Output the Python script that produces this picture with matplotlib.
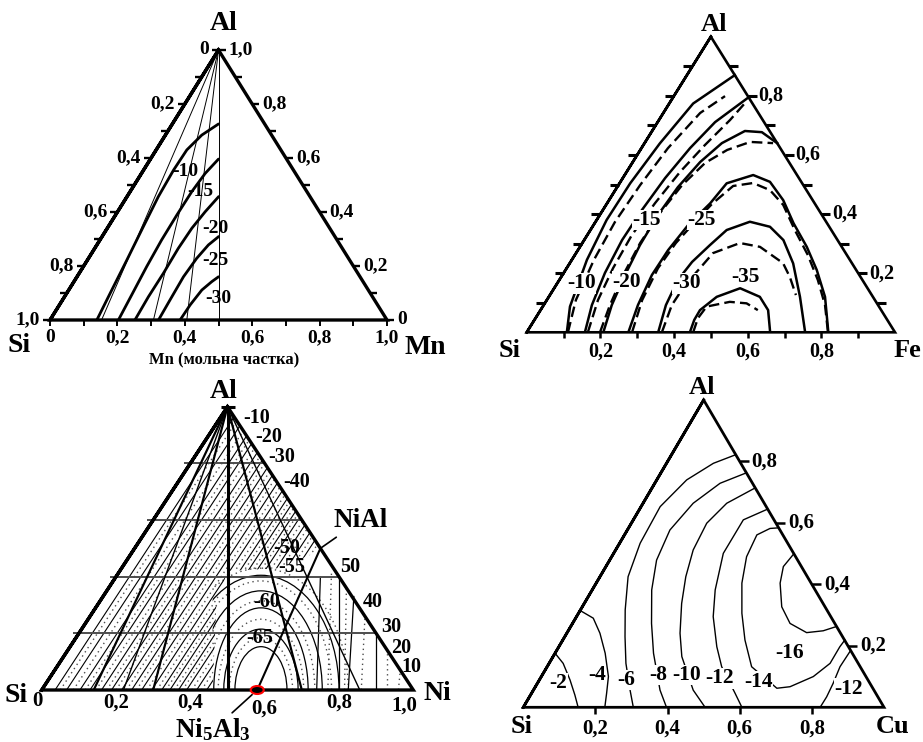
import numpy as np
import matplotlib
matplotlib.use("Agg")
import matplotlib.pyplot as plt
from matplotlib.patches import Polygon, Arc, Ellipse
from matplotlib.transforms import offset_copy

# ---------------- data: compositions (fraction of right-hand element, fraction of Al) ----------------
# Panel 1: Si-Mn-Al
P1_TICKS = [0.0, 0.1, 0.2, 0.3, 0.4, 0.5, 0.6, 0.7, 0.8, 0.9, 1.0]
P1_TICK_LABELS = [0.0, 0.2, 0.4, 0.6, 0.8, 1.0]
P1_RAYS_MN = [0.153, 0.307, 0.406, 0.5]
P1_CURVE_MN = [
    [0.139, 0.129, 0.117, 0.104, 0.093, 0.089, 0.091, 0.108, 0.137],
    [0.203, 0.196, 0.188, 0.183, 0.182, 0.183, 0.189, 0.202],
    [0.252, 0.249, 0.250, 0.248, 0.251, 0.260, 0.272],
    [0.322, 0.319, 0.316, 0.321, 0.331, 0.346],
    [0.386, 0.388, 0.395, 0.409, 0.420],
]
P1_CURVE_AL = [
    [0.0, 0.099, 0.222, 0.346, 0.457, 0.556, 0.630, 0.685, 0.726],
    [0.0, 0.093, 0.198, 0.296, 0.389, 0.475, 0.543, 0.596],
    [0.0, 0.086, 0.173, 0.265, 0.340, 0.401, 0.457],
    [0.0, 0.074, 0.160, 0.228, 0.278, 0.309],
    [0.0, 0.056, 0.111, 0.142, 0.160],
]
P1_LEVELS = ["-10", "-15", "-20", "-25", "-30"]
P1_LEVEL_MN = [0.126, 0.208, 0.320, 0.379, 0.459]
P1_LEVEL_AL = [0.549, 0.475, 0.340, 0.222, 0.080]

# Panel 2: Si-Fe-Al
P2_TICKS = [0.1, 0.2, 0.3, 0.4, 0.5, 0.6, 0.7, 0.8, 0.9]
P2_TICK_LABELS = [0.2, 0.4, 0.6, 0.8]
P2_SOLID_FE = [
    [0.109, 0.074, 0.041, 0.027, 0.029, 0.042, 0.065, 0.130],
    [0.158, 0.131, 0.112, 0.103, 0.106, 0.115, 0.132, 0.156, 0.205],
    [0.208, 0.185, 0.170, 0.160, 0.158, 0.165, 0.183, 0.210, 0.252, 0.300, 0.360],
    [0.276, 0.256, 0.243, 0.245, 0.257, 0.280, 0.291, 0.349, 0.406, 0.473, 0.540, 0.616, 0.682, 0.750, 0.819],
    [0.357, 0.332, 0.322, 0.330, 0.350, 0.370, 0.419, 0.482, 0.541, 0.607, 0.682, 0.756],
    [0.443, 0.434, 0.433, 0.456, 0.505, 0.573, 0.618, 0.661],
]
P2_SOLID_AL = [
    [0.0, 0.087, 0.245, 0.380, 0.504, 0.639, 0.774, 0.870],
    [0.0, 0.092, 0.201, 0.312, 0.414, 0.522, 0.623, 0.711, 0.795],
    [0.0, 0.092, 0.194, 0.295, 0.397, 0.491, 0.576, 0.640, 0.681, 0.677, 0.640],
    [0.0, 0.092, 0.194, 0.278, 0.363, 0.436, 0.504, 0.532, 0.509, 0.447, 0.369, 0.289, 0.211, 0.120, 0.0],
    [0.0, 0.092, 0.177, 0.238, 0.295, 0.346, 0.374, 0.357, 0.312, 0.233, 0.120, 0.0],
    [0.0, 0.042, 0.075, 0.120, 0.149, 0.120, 0.075, 0.0],
]
P2_DASH_FE = [
    [0.112, 0.079, 0.060, 0.053, 0.059, 0.072, 0.100, 0.139],
    [0.166, 0.139, 0.126, 0.121, 0.130, 0.145, 0.167, 0.193, 0.205],
    [0.199, 0.180, 0.165, 0.157, 0.160, 0.173, 0.198, 0.236, 0.285, 0.349],
    [0.286, 0.259, 0.248, 0.254, 0.270, 0.286, 0.313, 0.362, 0.420, 0.481, 0.555, 0.633, 0.702, 0.764, 0.818],
    [0.367, 0.348, 0.350, 0.362, 0.372, 0.428, 0.489, 0.579, 0.621, 0.668],
    [0.452, 0.441, 0.445, 0.500, 0.548, 0.590],
]
P2_DASH_AL = [
    [0.0, 0.109, 0.245, 0.373, 0.498, 0.623, 0.742, 0.799],
    [0.0, 0.109, 0.217, 0.329, 0.437, 0.542, 0.633, 0.718, 0.776],
    [0.0, 0.092, 0.194, 0.302, 0.403, 0.498, 0.573, 0.617, 0.644, 0.640],
    [0.0, 0.109, 0.217, 0.302, 0.373, 0.434, 0.495, 0.505, 0.481, 0.431, 0.346, 0.261, 0.177, 0.092, 0.0],
    [0.0, 0.092, 0.160, 0.217, 0.268, 0.302, 0.289, 0.234, 0.187, 0.126],
    [0.0, 0.048, 0.087, 0.103, 0.098, 0.075],
]
P2_LEVELS = ["-10", "-15", "-20", "-25", "-30", "-35"]
P2_LEVEL_FE = [0.066, 0.136, 0.186, 0.285, 0.352, 0.499]
P2_LEVEL_AL = [0.166, 0.380, 0.171, 0.380, 0.166, 0.188]

# Panel 3: Si-Ni-Al
P3_GRID_AL = [0.2, 0.4, 0.6, 0.8]
P3_TICK_LABELS = [0.2, 0.4, 0.6, 0.8]
P3_RAYS_THICK = [0.14, 0.30, 0.70]
P3_RAYS_THIN = [0.22, 0.856]
P3_HATCH_SOLID = [0.036, 0.067, 0.103, 0.130, 0.161, 0.188, 0.215, 0.242, 0.269,
                  0.296, 0.323, 0.345, 0.368, 0.390, 0.417, 0.444, 0.471]
P3_HATCH_DOT = [0.050, 0.085, 0.117, 0.146, 0.175, 0.200, 0.228, 0.255, 0.283,
                0.310, 0.334, 0.357, 0.379, 0.404, 0.430, 0.457, 0.485]
P3_ARC_CENTER_NI = 0.59
P3_ARC_RX_SOLID = [0.07, 0.10, 0.127, 0.165, 0.21]
P3_ARC_RY_SOLID = [0.153, 0.215, 0.29, 0.35, 0.405]
P3_ARC_RX_DOT = [0.085, 0.115, 0.145, 0.19, 0.235]
P3_ARC_RY_DOT = [0.185, 0.25, 0.315, 0.385, 0.43]
P3_NI_SOLID_BASE = [0.74, 0.80, 0.825, 0.90]
P3_NI_SOLID_TOP = [0.55, 0.60, 0.675, 0.80]
P3_AL_SOLID_TOP = [0.40, 0.40, 0.33, 0.20]
P3_NI_DOT_BASE = [0.77, 0.815, 0.86, 0.93, 0.96]
P3_NI_DOT_TOP = [0.57, 0.64, 0.74, 0.86, 0.93]
P3_AL_DOT_TOP = [0.42, 0.36, 0.26, 0.14, 0.07]
P3_NI5AL3 = (0.58, 0.0)
P3_NIAL = (0.50, 0.50)
P3_LEVELS = ["-10", "-20", "-30", "-40", "-50", "-55", "-60", "-65", "50", "40", "30", "20", "10"]
P3_LEVEL_NI = [0.099, 0.163, 0.234, 0.320, 0.408, 0.455, 0.450, 0.496, 0.612, 0.736, 0.830, 0.895, 0.954]
P3_LEVEL_AL = [0.959, 0.894, 0.824, 0.733, 0.502, 0.435, 0.312, 0.183, 0.435, 0.312, 0.223, 0.147, 0.082]

# Panel 4: Si-Cu-Al
P4_TICK_LABELS = [0.2, 0.4, 0.6, 0.8]
P4_CURVE_CU = [
    [0.0, 0.039, 0.085, 0.123, 0.152],
    [0.0, 0.049, 0.092, 0.139, 0.186, 0.208, 0.226],
    [0.178, 0.130, 0.083, 0.053, 0.057, 0.078, 0.124, 0.167, 0.213, 0.268, 0.305],
    [0.237, 0.181, 0.139, 0.118, 0.130, 0.165, 0.219, 0.273, 0.351, 0.397],
    [0.286, 0.232, 0.209, 0.215, 0.238, 0.270, 0.314, 0.357, 0.443, 0.504],
    [0.355, 0.305, 0.304, 0.341, 0.379, 0.438, 0.484, 0.564, 0.606],
    [0.416, 0.393, 0.367, 0.374, 0.404, 0.453, 0.505, 0.567, 0.672, 0.706, 0.754, 0.779, 0.779, 0.782],
    [0.500, 0.492, 0.510, 0.553, 0.603, 0.664, 0.707, 0.737],
    [0.815, 0.812, 0.820, 0.824, 0.823],
]
P4_CURVE_AL = [
    [0.176, 0.143, 0.089, 0.040, 0.0],
    [0.315, 0.290, 0.241, 0.176, 0.100, 0.046, 0.0],
    [0.822, 0.794, 0.740, 0.653, 0.534, 0.425, 0.317, 0.230, 0.143, 0.056, 0.0],
    [0.763, 0.729, 0.664, 0.577, 0.479, 0.382, 0.273, 0.176, 0.056, 0.0],
    [0.714, 0.664, 0.599, 0.512, 0.425, 0.338, 0.241, 0.165, 0.056, 0.0],
    [0.645, 0.610, 0.501, 0.382, 0.295, 0.197, 0.132, 0.046, 0.0],
    [0.584, 0.582, 0.561, 0.490, 0.404, 0.306, 0.219, 0.132, 0.062, 0.067, 0.100, 0.143, 0.197, 0.219],
    [0.498, 0.458, 0.404, 0.327, 0.273, 0.243, 0.249, 0.263],
    [0.185, 0.132, 0.078, 0.034, 0.0],
]
P4_LEVELS = ["-2", "-4", "-6", "-8", "-10", "-12", "-14", "-16", "-12"]
P4_LEVEL_CU = [0.058, 0.151, 0.242, 0.322, 0.400, 0.498, 0.610, 0.649, 0.871]
P4_LEVEL_AL = [0.078, 0.105, 0.089, 0.105, 0.105, 0.094, 0.083, 0.176, 0.060]

# ---------------- drawing ----------------
plt.rcParams["font.family"] = ["Liberation Serif", "DejaVu Serif"]
plt.rcParams["font.weight"] = "bold"
plt.rcParams["mathtext.fontset"] = "custom"
plt.rcParams["mathtext.rm"] = "Liberation Serif:bold"
plt.rcParams["mathtext.it"] = "Liberation Serif:bold"
plt.rcParams["mathtext.bf"] = "Liberation Serif:bold"

W, H = 923, 742
fig = plt.figure(figsize=(W / 100, H / 100), dpi=100)


def to_xy(b, al):
    b = np.asarray(b, dtype=float)
    al = np.asarray(al, dtype=float)
    return b + al / 2, al


def comma(v):
    return "0" if v == 0 else f"{v:.1f}".replace(".", ",")


def make_panel(left, right, base, top):
    ax = fig.add_axes([left / W, 1 - base / H, (right - left) / W, (base - top) / H])
    ax.set_xlim(0, 1)
    ax.set_ylim(0, 1)
    ax.axis("off")
    return ax, right - left, base - top


def outline(ax, lw):
    ax.plot([0, 0.5, 1, 0, 0.5], [0, 1, 0, 0, 1], color="k", lw=lw,
            solid_joinstyle="miter", clip_on=False, zorder=5)


def seg(ax, x0, y0, x1, y1, lw=1.5, **kw):
    ax.plot([x0, x1], [y0, y1], color=kw.pop("color", "k"), lw=lw,
            solid_capstyle="butt", clip_on=False, **kw)


def txt(ax, x, y, s, dx=0, dy=0, size=13, **kw):
    tr = offset_copy(ax.transData, fig=fig, x=dx, y=-dy, units="dots")
    kw.setdefault("ha", "center")
    kw.setdefault("va", "center")
    return ax.text(x, y, s, transform=tr, fontsize=size, fontweight="bold",
                   clip_on=False, **kw)


WHITE = dict(facecolor="white", edgecolor="none", pad=0.3)

# ===== Panel 1 =====
ax1, w1, h1 = make_panel(50, 387, 320, 50)
for mn in P1_RAYS_MN:
    seg(ax1, 0.5, 1, *to_xy(mn, 0), lw=0.7)
for b, al in zip(P1_CURVE_MN, P1_CURVE_AL):
    x, y = to_xy(b, al)
    ax1.plot(x, y, color="k", lw=2.0, solid_capstyle="round")
for al in P1_TICKS:
    seg(ax1, al / 2, al, al / 2 - 7 / w1, al, lw=1.7)
    seg(ax1, 1 - al / 2, al, 1 - al / 2 + 7 / w1, al, lw=1.7)
    seg(ax1, al, 0, al, -6 / h1, lw=1.4)
for v in P1_TICK_LABELS:
    txt(ax1, (1 - v) / 2, 1 - v, comma(v), dx=-10, ha="right", size=14)
    txt(ax1, 1 - v / 2, v, comma(v), dx=10, ha="left", size=14)
    txt(ax1, v, 0, comma(v), dy=18, size=14)
for s, b, al in zip(P1_LEVELS, P1_LEVEL_MN, P1_LEVEL_AL):
    txt(ax1, *to_xy(b, al), s, size=14)
outline(ax1, 2.4)
txt(ax1, 0.5, 1, "Al", dx=5, dy=-26, size=20)
txt(ax1, 0, 0, "Si", dx=-31, dy=25, size=20)
txt(ax1, 1, 0, "Mn", dx=38, dy=27, size=20)
txt(ax1, 0.5, 0, "Mn (мольна частка)", dx=6, dy=40, size=12)

# ===== Panel 2 =====
ax2, w2, h2 = make_panel(526.7, 895, 332.3, 36.7)
for b, al in zip(P2_SOLID_FE, P2_SOLID_AL):
    x, y = to_xy(b, al)
    ax2.plot(x, y, color="k", lw=1.8)
for b, al in zip(P2_DASH_FE, P2_DASH_AL):
    x, y = to_xy(b, al)
    ax2.plot(x, y, color="k", lw=1.7, ls=(0, (4.5, 2.2)))
for al in P2_TICKS:
    seg(ax2, al / 2, al, al / 2 - 9 / w2, al, lw=2.2)
    seg(ax2, 1 - al / 2, al, 1 - al / 2 + 9 / w2, al, lw=2.2)
    seg(ax2, al, 0, al, -6 / h2, lw=1.8)
for v in P2_TICK_LABELS:
    txt(ax2, 1 - v / 2, v, comma(v), dx=11, ha="left", size=14.5)
    txt(ax2, v, 0, comma(v), dy=19, size=14.5)
for s, b, al in zip(P2_LEVELS, P2_LEVEL_FE, P2_LEVEL_AL):
    txt(ax2, *to_xy(b, al), s, size=15.5, bbox=WHITE)
outline(ax2, 1.9)
txt(ax2, 0.5, 1, "Al", dx=3, dy=-12, size=19)
txt(ax2, 0, 0, "Si", dx=-17, dy=18, size=19)
txt(ax2, 1, 0, "Fe", dx=12, dy=18, size=19)

# ===== Panel 3 =====
ax3, w3, h3 = make_panel(41.7, 413.3, 690, 406.7)
hatch_zone = Polygon([(0, 0), (0.5, 1), (0.753, 0.494), (0.64, 0.43), (0.5, 0.42),
                      (0.47, 0.3), (0.46, 0)], closed=True, facecolor="none",
                     edgecolor="none", transform=ax3.transData)
ax3.add_patch(hatch_zone)
arc_zone = Polygon([(0.46, 0), (1, 0), (0.5, 1), (0.46, 0.92)], closed=True,
                   facecolor="none", edgecolor="none", transform=ax3.transData)
ax3.add_patch(arc_zone)
for c in P3_HATCH_SOLID:
    x, y = to_xy([c, c], [0, 1 - c])
    ln, = ax3.plot(x, y, color="k", lw=0.8)
    ln.set_clip_path(hatch_zone)
for c in P3_HATCH_DOT:
    x, y = to_xy([c, c], [0, 1 - c])
    ln, = ax3.plot(x, y, color="0.3", lw=1.0, ls=(0, (1, 2.6)))
    ln.set_clip_path(hatch_zone)
for rx, ry in zip(P3_ARC_RX_SOLID, P3_ARC_RY_SOLID):
    a = Arc((P3_ARC_CENTER_NI, 0), 2 * rx, 2 * ry, theta1=0, theta2=180, color="k", lw=0.9)
    ax3.add_patch(a)
    a.set_clip_path(arc_zone)
for rx, ry in zip(P3_ARC_RX_DOT, P3_ARC_RY_DOT):
    a = Arc((P3_ARC_CENTER_NI, 0), 2 * rx, 2 * ry, theta1=0, theta2=180, color="0.3",
            lw=1.0, ls=(0, (1, 2.6)))
    ax3.add_patch(a)
    a.set_clip_path(arc_zone)
for b0, b1, a1 in zip(P3_NI_SOLID_BASE, P3_NI_SOLID_TOP, P3_AL_SOLID_TOP):
    x, y = to_xy([b0, b1], [0, a1])
    ax3.plot(x, y, color="k", lw=0.9)
for b0, b1, a1 in zip(P3_NI_DOT_BASE, P3_NI_DOT_TOP, P3_AL_DOT_TOP):
    x, y = to_xy([b0, b1], [0, a1])
    ax3.plot(x, y, color="0.3", lw=1.0, ls=(0, (1, 2.6)))
for al in P3_GRID_AL:
    seg(ax3, al / 2 - 6 / w3, al, 1 - al / 2, al, lw=1.4, color="0.3")
seg(ax3, 0.5, 0, 0.5, 1, lw=2.2)
for b in P3_RAYS_THICK:
    seg(ax3, 0.5, 1, *to_xy(b, 0), lw=1.6)
for b in P3_RAYS_THIN:
    seg(ax3, 0.5, 1, *to_xy(b, 0), lw=1.0)
x, y = to_xy([P3_NI5AL3[0], P3_NIAL[0]], [P3_NI5AL3[1], P3_NIAL[1]])
ax3.plot(x, y, color="k", lw=1.5)
ax3.add_patch(Ellipse(to_xy(*P3_NI5AL3), 13 / w3, 8 / h3, facecolor="k",
                      edgecolor="red", lw=1.5, zorder=6, clip_on=False))
for s, b, al in zip(P3_LEVELS, P3_LEVEL_NI, P3_LEVEL_AL):
    txt(ax3, *to_xy(b, al), s, size=14.5)
outline(ax3, 2.4)
seg(ax3, 0.5 - 7 / w3, 1, 0.5 + 7 / w3, 1, lw=2.2)
ax3.annotate("NiAl", xy=to_xy(*P3_NIAL), xytext=(40, 28), textcoords="offset pixels",
             fontsize=19.5, fontweight="bold", ha="center", va="center",
             arrowprops=dict(arrowstyle="-", lw=1.2, color="k", shrinkA=2, shrinkB=0))
ax3.annotate("Ni$_5$Al$_3$", xy=to_xy(*P3_NI5AL3), xytext=(-44, -40), textcoords="offset pixels",
             fontsize=19.5, fontweight="bold", ha="center", va="center", annotation_clip=False,
             arrowprops=dict(arrowstyle="-", lw=1.2, color="k", shrinkA=1, shrinkB=5))
for v in P3_TICK_LABELS:
    txt(ax3, v, 0, comma(v), dy=19 if v == 0.6 else 13, size=15)
txt(ax3, 0, 0, "0", dx=-4, dy=11, size=15)
txt(ax3, 1, 0, "1,0", dx=-9, dy=16, size=15)
txt(ax3, 0.5, 1, "Al", dx=-4, dy=-15, size=20)
txt(ax3, 0, 0, "Si", dx=-26, dy=5, size=20)
txt(ax3, 1, 0, "Ni", dx=24, dy=4, size=20)

# ===== Panel 4 =====
ax4, w4, h4 = make_panel(523.3, 884, 707.3, 400)
for b, al in zip(P4_CURVE_CU, P4_CURVE_AL):
    x, y = to_xy(b, al)
    ax4.plot(x, y, color="k", lw=1.0)
for v in P4_TICK_LABELS:
    seg(ax4, v, 0, v, -7 / h4, lw=1.8)
    seg(ax4, 1 - v / 2, v, 1 - v / 2 + 9 / w4, v, lw=1.8)
    txt(ax4, 1 - v / 2, v, comma(v), dx=12, ha="left", size=15)
    txt(ax4, v, 0, comma(v), dy=21, size=15)
for s, b, al in zip(P4_LEVELS, P4_LEVEL_CU, P4_LEVEL_AL):
    txt(ax4, *to_xy(b, al), s, size=15.5, bbox=WHITE)
outline(ax4, 2.0)
txt(ax4, 0.5, 1, "Al", dx=-2, dy=-12, size=19)
txt(ax4, 0, 0, "Si", dx=-2, dy=19, size=19)
txt(ax4, 1, 0, "Cu", dx=9, dy=19, size=19)

fig.savefig("out.png", dpi=100)
